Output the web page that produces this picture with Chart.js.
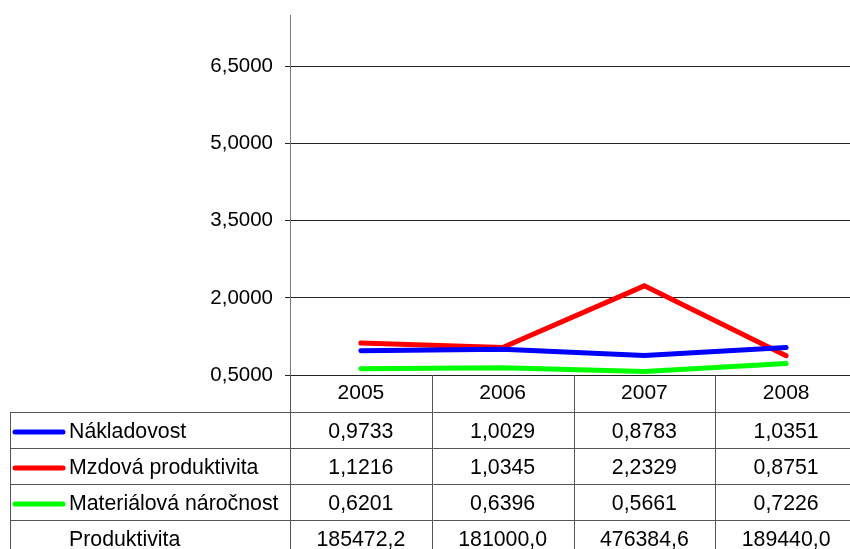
<!DOCTYPE html>
<html>
<head>
<meta charset="utf-8">
<script src="https://cdn.jsdelivr.net/npm/chart.js@4.4.1/dist/chart.umd.min.js"></script>
<style>
  html, body { margin: 0; padding: 0; background: #fff; overflow: hidden; }
  #wrap { width: 850px; height: 549px; overflow: hidden; }
</style>
</head>
<body>
<div id="wrap"><canvas id="line-chart" width="858" height="549"></canvas></div>
<script>
// data
let years = ['2005', '2006', '2007', '2008'];
let nakladovost = [0.9733, 1.0029, 0.8783, 1.0351];
let mzdova = [1.1216, 1.0345, 2.2329, 0.8751];
let materialova = [0.6201, 0.6396, 0.5661, 0.7226];
let produktivita = [185472.2, 181000.0, 476384.6, 189440.0];
let seriesNames = ['Nákladovost', 'Mzdová produktivita', 'Materiálová náročnost'];
let seriesColors = ['#0000ff', '#ff0000', '#00ff00'];
let yTicks = [0.5, 2.0, 3.5, 5.0, 6.5];

const FAMILY = '"Liberation Sans", Arial, sans-serif';
const TABLE_FONT = '21.3px ' + FAMILY;

function fmt(v, d) {
    return v.toFixed(d).replace('.', ',');
}

// data table below the plot, columns taken from the x scale
const tablePlugin = {
    id: 'dataTable',
    afterDraw(chart) {
        const ctx = chart.ctx;
        const x = chart.scales.x;
        const area = chart.chartArea;
        const half = (area.right - area.left) / years.length / 2;
        const rowTop = 412;
        const rowH = 36;
        const bottom = chart.height;
        const rows = [nakladovost, mzdova, materialova, produktivita];

        ctx.save();
        ctx.strokeStyle = '#555';
        ctx.lineWidth = 1;

        // horizontal row lines
        for (let r = 0; r < rows.length; r++) {
            let y = Math.round(rowTop + r * rowH) + 0.5;
            ctx.beginPath();
            ctx.moveTo(10, y);
            ctx.lineTo(area.right, y);
            ctx.stroke();
        }
        // left border of the table
        ctx.beginPath();
        ctx.moveTo(10.5, rowTop);
        ctx.lineTo(10.5, bottom);
        ctx.stroke();
        // column borders
        for (let i = 0; i <= years.length; i++) {
            let cx = i < years.length ? x.getPixelForValue(i) - half : area.right;
            cx = Math.round(cx) + 0.5;
            ctx.beginPath();
            ctx.moveTo(cx, area.bottom);
            ctx.lineTo(cx, bottom);
            ctx.stroke();
        }

        ctx.font = TABLE_FONT;
        ctx.fillStyle = '#000';
        ctx.textBaseline = 'middle';

        rows.forEach((vals, r) => {
            let cy = rowTop + r * rowH + rowH / 2 + 2;
            // legend key + name
            if (r < seriesNames.length) {
                ctx.strokeStyle = seriesColors[r];
                ctx.lineWidth = 5;
                ctx.lineCap = 'round';
                ctx.beginPath();
                ctx.moveTo(15, cy);
                ctx.lineTo(63, cy);
                ctx.stroke();
                ctx.textAlign = 'left';
                ctx.fillText(seriesNames[r], 69, cy);
            } else {
                ctx.textAlign = 'left';
                ctx.fillText('Produktivita', 69, cy);
            }
            ctx.textAlign = 'center';
            vals.forEach((v, i) => {
                let d = r < seriesNames.length ? 4 : 1;
                ctx.fillText(fmt(v, d), x.getPixelForValue(i), cy);
            });
        });
        ctx.restore();
    }
};

function makeSet(label, vals, color) {
    return {
        label: label,
        data: vals,
        borderColor: color,
        backgroundColor: color,
        borderWidth: 5,
        borderCapStyle: 'round',
        borderJoinStyle: 'miter',
        pointRadius: 0,
        tension: 0,
        fill: false
    };
}

const data = {
    labels: years,
    datasets: [
        makeSet(seriesNames[0], nakladovost, seriesColors[0]),
        makeSet(seriesNames[1], mzdova, seriesColors[1]),
        makeSet(seriesNames[2], materialova, seriesColors[2])
    ]
};

let config = {
    type: 'line',
    data: data,
    options: {
        responsive: false,
        animation: false,
        layout: { padding: { top: 15, right: 1, left: 0, bottom: 0 } },
        plugins: {
            legend: { display: false },
            tooltip: { enabled: false }
        },
        scales: {
            x: {
                offset: true,
                grid: { display: false, drawTicks: false },
                border: { display: true, color: '#222', width: 1 },
                ticks: {
                    color: '#000',
                    font: { family: FAMILY, size: 21 },
                    padding: 6,
                    maxRotation: 0
                },
                afterFit: (s) => { s.height = 174; s.paddingLeft = 0; s.paddingRight = 0; }
            },
            y: {
                min: 0.5,
                max: 7.5,
                afterBuildTicks: (s) => { s.ticks = yTicks.map(v => ({ value: v })); },
                afterFit: (s) => { s.width = 290; s.paddingTop = 0; s.paddingBottom = 0; },
                grid: { color: '#222', lineWidth: 1, tickLength: 5, drawTicks: true },
                border: { display: true, color: '#777', width: 1 },
                ticks: {
                    color: '#000',
                    padding: 12,
                    font: { family: FAMILY, size: 20.5 },
                    callback: (v) => fmt(v, 4)
                }
            }
        }
    },
    plugins: [tablePlugin]
};

new Chart(document.getElementById('line-chart'), config);
</script>
</body>
</html>
